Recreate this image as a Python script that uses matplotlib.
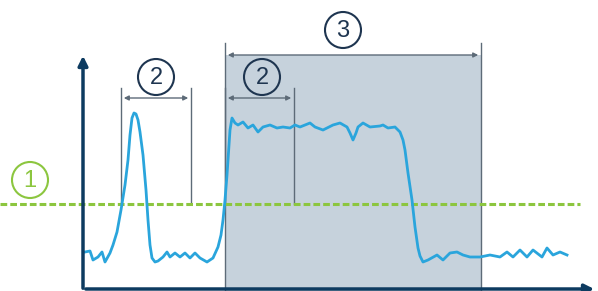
import matplotlib
matplotlib.use("Agg")
import matplotlib.pyplot as plt
from matplotlib.patches import Circle, Rectangle, FancyArrowPatch

# signal trace (x, y in image units, y grows downward)
signal_x = [85, 90, 93, 98, 102, 105, 110, 113, 117, 121, 125, 128, 130, 132, 134, 136,
            138, 140, 143, 146, 148, 150, 152, 155, 158, 163, 167, 170, 175, 180, 185,
            190, 195, 200, 207, 213, 218, 221, 223, 225, 227, 229, 230, 232, 235, 238,
            243, 248, 253, 258, 263, 270, 277, 283, 290, 295, 300, 310, 315, 323, 333,
            340, 347, 350, 353, 356, 358, 363, 370, 380, 383, 388, 395, 400, 403, 405,
            408, 412, 415, 418, 420, 423, 428, 437, 443, 450, 457, 463, 470, 480, 490,
            500, 507, 513, 520, 527, 533, 542, 547, 553, 560, 567]
signal_y = [252, 251, 260, 257, 252, 262, 253, 245, 232, 210, 185, 160, 135, 118, 113, 114,
            120, 132, 155, 190, 220, 245, 258, 262, 261, 257, 252, 257, 253, 257, 253,
            258, 253, 258, 262, 258, 247, 235, 220, 200, 175, 145, 130, 118, 123, 125,
            122, 128, 125, 132, 127, 125, 128, 127, 128, 125, 127, 123, 127, 130, 125,
            123, 127, 133, 140, 133, 127, 123, 127, 126, 125, 128, 127, 132, 140, 150,
            173, 200, 227, 248, 256, 262, 260, 255, 260, 253, 252, 255, 257, 257, 255,
            257, 252, 257, 250, 257, 250, 257, 248, 255, 252, 255]

threshold_y = 204
window_x = [225, 481]
pulse_marks = [121, 191]
level_marks = [225, 294]
labels = ["1", "2", "2", "3"]

NAVY = "#0d3b60"
DARK = "#1e3550"
GRAY = "#5d6b78"
GREEN = "#8cc63f"
BLUE = "#2aa5dc"
SHADE = "#c6d2dc"

plt.rcParams["font.family"] = ["Liberation Sans", "DejaVu Sans"]

fig = plt.figure(figsize=(5.98, 2.91), dpi=100)
ax = fig.add_axes([0, 0, 1, 1])
ax.set_xlim(0, 598)
ax.set_ylim(291, 0)
ax.axis("off")

# measurement window
ax.add_patch(Rectangle((window_x[0], 55), window_x[1] - window_x[0], 240,
                       facecolor=SHADE, edgecolor="none", zorder=1))
for x in window_x:
    ax.plot([x, x], [43, 291], color=GRAY, lw=1, zorder=2)

# threshold
ax.plot([0, 580], [threshold_y, threshold_y], color=GREEN, lw=2.2,
        dashes=(2.2, 1.0), zorder=3)

# signal
ax.plot(signal_x, signal_y, color=BLUE, lw=2, solid_joinstyle="round", zorder=4)

# dimension lines
def dim(x0, x1, y):
    ax.add_patch(FancyArrowPatch((x0, y), (x1, y), arrowstyle="<|-|>",
                                 mutation_scale=7, color=GRAY, lw=1, zorder=5))

for marks in (pulse_marks, level_marks):
    for x in marks:
        ax.plot([x, x], [88, threshold_y], color=GRAY, lw=1, zorder=2)
    dim(marks[0], marks[1], 98)
dim(window_x[0], window_x[1], 55)

# labels
def badge(x, y, text, color, fill):
    ax.add_patch(Circle((x, y), 18, facecolor=fill, edgecolor=color, lw=1.5, zorder=6))
    ax.text(x, y + 1, text, ha="center", va="center", fontsize=17, color=color, zorder=7)

badge(30, 180, labels[0], GREEN, "white")
badge(156, 77, labels[1], DARK, "white")
badge(262, 77, labels[2], DARK, "none")
badge(343, 30, labels[3], DARK, "white")

# axes arrows
ax.add_patch(FancyArrowPatch((83, 291), (83, 53), arrowstyle="-|>", mutation_scale=14,
                             color=NAVY, lw=2.5, zorder=8))
ax.add_patch(FancyArrowPatch((83, 289), (597, 289), arrowstyle="-|>", mutation_scale=14,
                             color=NAVY, lw=2.5, zorder=8))

fig.savefig("out.png", dpi=100)
